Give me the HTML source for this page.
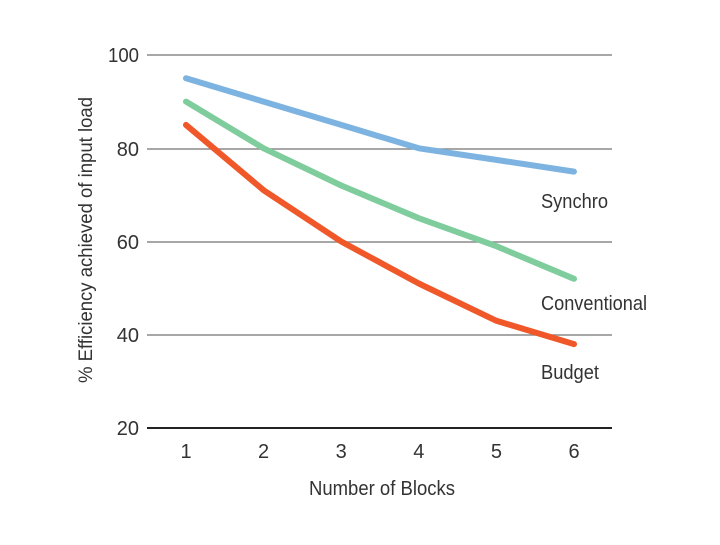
<!DOCTYPE html>
<html><head><meta charset="utf-8"><style>
html,body{margin:0;padding:0;background:#fff;}
svg text{font-family:"Liberation Sans Narrow","Liberation Sans",sans-serif;fill:#333;}
</style></head><body>
<svg width="720" height="540" xmlns="http://www.w3.org/2000/svg">
<g stroke="#8a8a8a" stroke-width="1.5">
<line x1="147" y1="55" x2="612" y2="55"/>
<line x1="147" y1="149" x2="612" y2="149"/>
<line x1="147" y1="242" x2="612" y2="242"/>
<line x1="147" y1="335" x2="612" y2="335"/>
</g>
<line x1="147" y1="428" x2="612" y2="428" stroke="#222" stroke-width="2"/>
<g font-size="20" text-anchor="end">
<text x="139" y="62" textLength="31" lengthAdjust="spacingAndGlyphs">100</text>
<text x="139" y="156">80</text>
<text x="139" y="249">60</text>
<text x="139" y="342">40</text>
<text x="139" y="435">20</text>
</g>
<g font-size="20" text-anchor="middle">
<text x="186" y="458">1</text>
<text x="263.6" y="458">2</text>
<text x="341.2" y="458">3</text>
<text x="418.8" y="458">4</text>
<text x="496.4" y="458">5</text>
<text x="574" y="458">6</text>
</g>
<text font-size="20" x="309" y="495" textLength="146" lengthAdjust="spacingAndGlyphs">Number of Blocks</text>
<text font-size="19" x="0" y="0" textLength="286" lengthAdjust="spacingAndGlyphs" transform="translate(92,383) rotate(-90)">% Efficiency achieved of input load</text>
<g fill="none" stroke-width="6" stroke-linecap="round" stroke-linejoin="round">
<polyline stroke="#7db3e0" points="186,78.3 263.6,101.6 341.2,124.9 418.8,148.3 496.4,159.9 574,171.6"/>
<polyline stroke="#7fcc9c" points="186,101.6 263.6,148.3 341.2,185.5 418.8,218.2 496.4,246.2 574,278.8"/>
<polyline stroke="#f0582a" points="186,124.9 263.6,190.2 341.2,241.5 418.8,283.5 496.4,320.8 574,344.1"/>
</g>
<g font-size="20">
<text x="541" y="208" textLength="67" lengthAdjust="spacingAndGlyphs">Synchro</text>
<text x="541" y="310" textLength="106" lengthAdjust="spacingAndGlyphs">Conventional</text>
<text x="541" y="379" textLength="58" lengthAdjust="spacingAndGlyphs">Budget</text>
</g>
</svg>
</body></html>
